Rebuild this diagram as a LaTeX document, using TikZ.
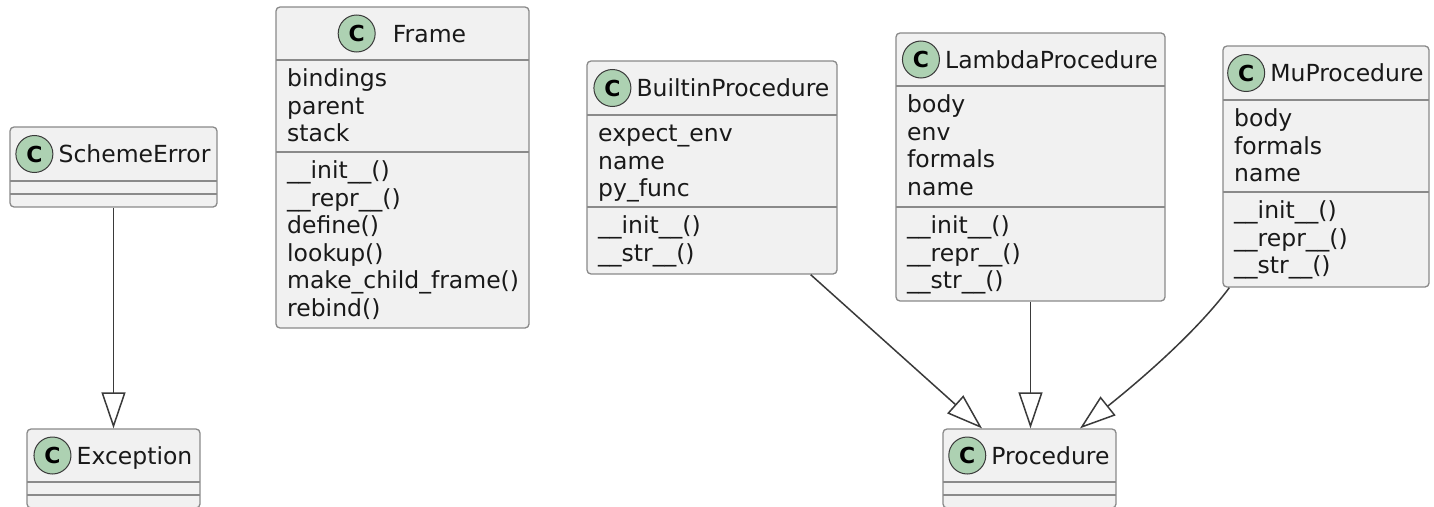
\documentclass[tikz,border=0pt]{standalone}
\usepackage{fontspec}
\setmainfont{DejaVu Sans}
\usetikzlibrary{arrows.meta,positioning}
\definecolor{boxfill}{HTML}{F1F1F1}
\definecolor{boxline}{HTML}{8A8A8A}
\definecolor{circfill}{HTML}{ADD1B2}
\definecolor{circline}{HTML}{3A3A3A}
\definecolor{arrowline}{HTML}{3A3A3A}
\tikzset{
  classbox/.style={draw=boxline, fill=boxfill, line width=1.3pt, rounded corners=4pt, inner sep=0pt},
  sepline/.style={draw=boxline, line width=1.3pt},
  titletext/.style={inner sep=0pt, anchor=base, text=black!90, font=\fontsize{23.5}{27.5}\selectfont},
  rowtext/.style={inner sep=0pt, anchor=base west, text=black!90, font=\fontsize{23.5}{27.5}\selectfont},
  circC/.style={circle, draw=circline, line width=1pt, fill=circfill, minimum size=37pt, inner sep=0pt, font=\fontsize{22}{22}\selectfont\bfseries},
  inherit/.style={draw=arrowline, line width=1.5pt, -{Triangle[open, length=36pt, width=24pt]}},
}
% #1 id, #2 left, #3 top, #4 right, #5 bottom, #6 first separator, #7 second separator, #8 title, #9 extra spread
\newcommand{\umlbox}[9]{%
  \node[classbox, minimum width={(#4-#2)*1pt}, minimum height={(#5-#3)*1pt}] (#1) at ({(#2+#4)/2},{(#3+#5)/2}) {};
  \draw[sepline] (#2,#6) -- (#4,#6);
  \draw[sepline] (#2,#7) -- (#4,#7);
  \coordinate (#1-hc) at ({(#2+#4)/2},{(#3+#6)/2});
  \node[titletext] (#1-title) at ({(#2+#4)/2+21+#9},{(#3+#6)/2+8.5}) {#8};
  \path (#1-title.west |- #1-hc) ++({-5pt-2*#9 pt},0) node[circC, anchor=east] (#1-c) {C};
}
\newcommand{\umlrows}[4]{%
  \foreach \t [count=\i from 0] in {#4} {
    \node[rowtext] (#1-r\i) at ({#2+11},{#3+26.5+27.5*\i}) {\t};
  }
}
\begin{document}
\begin{tikzpicture}[x=1pt,y=-1pt]
\useasboundingbox (0,0) rectangle (1434,506);
\clip (0,0) rectangle (1434,506);
\fill[white] (0,0) rectangle (1434,506);

\umlbox{scheme}{10}{127}{217}{207}{181}{194}{SchemeError}{0}
\umlbox{exception}{27}{429}{200}{508}{482}{495}{Exception}{0}

\umlbox{frame}{276}{7}{529}{328}{60}{152}{Frame}{6}
\umlrows{frame-a}{276}{60}{bindings,parent,stack}
\umlrows{frame-m}{276}{152}{\_\_init\_\_(),\_\_repr\_\_(),define(),lookup(),make\_child\_frame(),rebind()}

\umlbox{builtin}{587}{61}{837}{274}{115}{207}{BuiltinProcedure}{0}
\umlrows{builtin-a}{587}{115}{expect\_env,name,py\_func}
\umlrows{builtin-m}{587}{207}{\_\_init\_\_(),\_\_str\_\_()}

\umlbox{lambda}{896}{33}{1165}{301}{86}{207}{LambdaProcedure}{0}
\umlrows{lambda-a}{896}{86}{body,env,formals,name}
\umlrows{lambda-m}{896}{207}{\_\_init\_\_(),\_\_repr\_\_(),\_\_str\_\_()}

\umlbox{mu}{1223}{46}{1429}{287}{100}{192}{MuProcedure}{0}
\umlrows{mu-a}{1223}{100}{body,formals,name}
\umlrows{mu-m}{1223}{192}{\_\_init\_\_(),\_\_repr\_\_(),\_\_str\_\_()}

\umlbox{proc}{943}{429}{1116}{508}{482}{495}{Procedure}{0}

\draw[inherit] (scheme.south) -- (exception.north);
\draw[inherit] ([xshift=-27pt]builtin.south east) -- ([xshift=-47.5pt]proc.north);
\draw[inherit] (lambda.south) -- (lambda.south |- proc.north);
\draw[inherit] ([xshift=7pt]mu.south west) .. controls +(-35pt,-47pt) and +(55pt,44pt) .. ([xshift=50.5pt]proc.north);
\end{tikzpicture}
\end{document}
